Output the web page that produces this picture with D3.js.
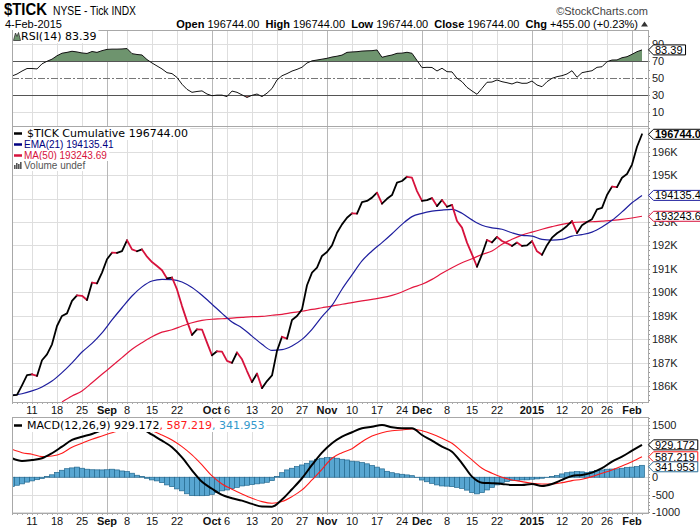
<!DOCTYPE html>
<html>
<head>
<meta charset="utf-8">
<script src="https://cdn.jsdelivr.net/npm/d3@7"></script>
<style>
  body { margin: 0; background: #fff; }
</style>
</head>
<body>
<div id="chart"></div>
<script>
// trading sessions, day of month
const aug14 = [5,6,7,8,11,12,13,14,15,18,19,20,21,22,25,26,27,28,29];
const sep14 = [2,3,4,5,8,9,10,11,12,15,16,17,18,19,22,23,24,25,26,29,30];
const oct14 = [1,2,3,6,7,8,9,10,13,14,15,16,17,20,21,22,23,24,27,28,29,30,31];
const nov14 = [3,4,5,6,7,10,11,12,13,14,17,18,19,20,21,24,25,26,28];
const dec14 = [1,2,3,4,5,8,9,10,11,12,15,16,17,18,19,22,23,24,26,29,30,31];
const jan15 = [2,5,6,7,8,9,12,13,14,15,16,20,21,22,23,26,27,28,29,30];
const feb15 = [2,3,4];

const tickDates = ["2014-08-11","2014-08-18","2014-08-25","2014-09-02","2014-09-08","2014-09-15","2014-09-22",
  "2014-10-01","2014-10-06","2014-10-13","2014-10-20","2014-10-27","2014-11-03","2014-11-10","2014-11-17",
  "2014-11-24","2014-12-01","2014-12-08","2014-12-15","2014-12-22","2015-01-02","2015-01-12","2015-01-20",
  "2015-01-26","2015-02-02"];
const tickLabels = ["11","18","25","Sep","8","15","22","Oct","6","13","20","27","Nov","10","17","24","Dec",
  "8","15","22","2015","12","20","26","Feb"];
const boldLabels = ["Sep","Oct","Nov","Dec","2015","Feb"];

// right axis labels (the ones not hidden under value tags)
const mainAxisVals = [186000,187000,188000,189000,190000,191000,192000,193000,195000,196000];
const rsiAxisVals = [90, 70, 50, 30, 10];
const macdAxisVals = [1500, 0, -500, -1000];

// $TICK cumulative, one value per session
const tickCum = [
  185600,185620,186030,186460,186500,186430,187100,187350,187780,188560,
  188990,189100,189630,189870,189850,189670,190410,190380,190840,191410,
  191690,191680,191760,192220,191830,191750,191830,191520,191290,191120,
  190940,190590,190630,190120,189410,188770,188180,188420,188410,187850,
  187310,187480,187470,187070,186990,187430,187140,186640,186170,186530,
  185910,186210,186450,187500,188100,188020,188820,188990,189270,190300,
  190840,191050,191550,191720,192000,192540,192900,193180,193370,193360,
  193850,193900,194040,194250,193780,193990,194150,194680,194750,194930,
  194890,194320,193900,193930,194020,193680,193940,193650,193730,193040,
  192760,192120,191620,191090,191620,192230,192130,192360,192190,192090,
  191980,192120,191980,192000,192180,191750,191600,192010,192330,192520,
  192660,192830,193040,192530,192860,193000,193120,193540,193600,194150,
  194510,194490,194890,195050,195450,196210,196744];

// EMA(21), every second session from the first
const ema21 = [
  185600,185670,185790,185960,186210,186570,186990,187450,187820,188270,
  188820,189340,189840,190230,190480,190550,190540,190440,190200,189870,
  189490,189100,188730,188480,188130,187780,187520,187550,187710,187990,
  188420,188960,189440,190130,190740,191340,191760,192120,192500,192900,
  193230,193370,193460,193510,193540,193370,193090,192860,192750,192690,
  192540,192430,192400,192260,192230,192260,192400,192460,192570,192790,
  193070,193430,193820,194135.41];

// MA(50), every second session from session 10
const ma50 = [
  185320,185570,185790,186140,186500,186850,187210,187570,187850,188100,
  188300,188400,188560,188700,188800,188850,188870,188900,188930,188960,
  188970,189020,189060,189130,189190,189270,189340,189410,189490,189560,
  189630,189700,189770,189870,190010,190200,190340,190550,190810,191050,
  191260,191430,191620,191760,192050,192260,192440,192570,192690,192800,
  192900,192970,193000,193010,193040,193070,193110,193170,193243.69];

// RSI(14), one value per session
const rsi14 = [
  52.7,55,58.5,61.5,61.5,61,67,70,72.5,76.5,
  79.5,80.5,81.8,81,79.8,79.2,81.5,80.5,82.5,84,
  84.3,84.3,84.5,85,79,78,77.4,72,68,64.5,
  61,56.6,55.5,51,43,37,33.5,34.5,35.2,31.5,
  29.5,30.2,30.2,28.5,35,33.5,30.5,27.5,30,31.5,
  28.5,32.5,38,48,53,55.5,58.5,60.5,63,68,
  70.5,71.5,72.5,73.5,75,76,77.3,80.5,81,81.3,
  82,82.3,82.5,83.3,74.7,76.2,77.4,79.4,79.6,80.6,
  79.4,71,62.5,62.9,62.7,58.6,61.8,57.8,57.5,50,
  46,39.4,35.1,31.2,38.2,45.3,45.6,48,46,44.8,
  43.3,45.6,44.1,44.2,46.8,42.1,40.1,46,50,51.9,
  53.1,55.1,58.9,51.2,56.6,57.8,58.9,62.9,63.6,69.5,
  71.5,71.6,74.2,75.4,78.2,81.3,83.39];

// MACD(12,26,9) line and signal, every second session
const macdLine = [
  544,467,496,544,688,877,1069,1163,1241,1355,
  1450,1530,1490,1400,1220,1049,860,570,200,-130,
  -330,-507,-602,-670,-765,-842,-845,-640,-344,-29,
  352,705,974,1163,1290,1404,1450,1499,1433,1404,
  1404,1212,1049,877,734,401,17,-155,-172,-192,
  -221,-221,-192,-249,-192,-77,37,66,132,258,
  447,590,762,929.172];
const macdSignal = [
  802,705,659,590,610,688,860,974,1089,1183,
  1278,1355,1375,1375,1335,1212,1069,877,639,352,
  37,-192,-344,-479,-602,-699,-745,-699,-556,-364,
  -77,229,544,705,820,1020,1183,1278,1335,1355,
  1384,1335,1241,1117,974,734,496,258,115,0,
  -77,-126,-172,-192,-192,-155,-97,-57,17,115,
  209,324,447,587.219];
// MACD histogram, one value per session
const macdHist = [
  -265,-230,-190,-140,-105,-70,-35,20,70,140,
  200,245,268,290,258,230,215,212,210,215,
  230,210,180,162,115,57,20,-30,-77,-105,
  -155,-220,-270,-335,-390,-475,-525,-530,-530,-520,
  -490,-440,-390,-365,-325,-290,-250,-230,-210,-190,
  -170,-145,-97,20,130,210,258,305,352,400,
  465,515,545,563,563,545,515,496,460,445,
  420,385,335,290,240,170,130,100,85,67,
  45,-10,-80,-130,-175,-220,-250,-255,-270,-290,
  -320,-370,-440,-477,-440,-365,-290,-220,-155,-125,
  -97,-95,-77,-75,-57,-48,-29,-10,20,48,
  95,130,150,162,155,140,160,190,210,230,
  235,240,258,277,290,305,341.953];

const pad = d => String(d).padStart(2, "0");
const dates = [].concat(
  aug14.map(d => "2014-08-" + pad(d)), sep14.map(d => "2014-09-" + pad(d)),
  oct14.map(d => "2014-10-" + pad(d)), nov14.map(d => "2014-11-" + pad(d)),
  dec14.map(d => "2014-12-" + pad(d)), jan15.map(d => "2015-01-" + pad(d)),
  feb15.map(d => "2015-02-" + pad(d)));

const width = 700, height = 531;
const left = 12, right = 648;
const rsiBox = { top: 30, bottom: 126 },
      mainBox = { top: 126, bottom: 402 },
      macdBox = { top: 417, bottom: 513 };

const x = d3.scalePoint().domain(dates).range([12, 642]);
const yRsi = d3.scaleLinear().domain([-6.1, 106.8]).range([rsiBox.bottom, rsiBox.top]);
const yMain = d3.scaleLinear().domain([185317, 197097]).range([mainBox.bottom, mainBox.top]);
const yMacd = d3.scaleLinear().domain([-1026, 1728]).range([macdBox.bottom, macdBox.top]);

const FONT = "'Liberation Sans', Arial, sans-serif";
const VFONT = "'DejaVu Sans', Verdana, sans-serif";

const svg = d3.select("#chart").append("svg")
    .attr("width", width)
    .attr("height", height)
    .style("font-family", FONT);

const defs = svg.append("defs");
function clip(id, x0, y0, w, h) {
  defs.append("clipPath").attr("id", id)
    .append("rect").attr("x", x0).attr("y", y0).attr("width", w).attr("height", h);
  return "url(#" + id + ")";
}

function grid(box, yScale, yVals) {
  const g = svg.append("g");
  g.selectAll("line.h").data(yVals).enter().append("line")
    .attr("x1", left).attr("x2", right)
    .attr("y1", d => Math.round(yScale(d)) + 0.5).attr("y2", d => Math.round(yScale(d)) + 0.5)
    .attr("stroke", "#dedede");
  g.selectAll("line.v").data(tickDates).enter().append("line")
    .attr("x1", d => Math.round(x(d)) + 0.5).attr("x2", d => Math.round(x(d)) + 0.5)
    .attr("y1", box.top).attr("y2", box.bottom)
    .attr("stroke", (d, i) => boldLabels.includes(tickLabels[i]) ? "#b8b8b8" : "#dedede");
  return g;
}

function frame(box, yScale, minorStep) {
  const g = svg.append("g");
  const minor = d3.range(Math.ceil(yScale.domain()[0] / minorStep) * minorStep, yScale.domain()[1], minorStep);
  g.selectAll("line").data(minor).enter().append("line")
    .attr("x1", right).attr("x2", right + 2)
    .attr("y1", d => Math.round(yScale(d)) + 0.5).attr("y2", d => Math.round(yScale(d)) + 0.5)
    .attr("stroke", "#999");
  g.append("rect")
    .attr("x", left + 0.5).attr("y", box.top + 0.5)
    .attr("width", right - left).attr("height", box.bottom - box.top)
    .attr("fill", "none").attr("stroke", "#a8a8a8");
}

function dayTicks(box) {
  svg.append("g").selectAll("line").data(dates).enter().append("line")
    .attr("x1", d => Math.round(x(d)) + 0.5).attr("x2", d => Math.round(x(d)) + 0.5)
    .attr("y1", box.bottom).attr("y2", box.bottom + 2)
    .attr("stroke", "#aaa");
}

function axisRight(yScale, vals, fmt) {
  svg.append("g").selectAll("text").data(vals).enter().append("text")
    .attr("x", 652).attr("y", d => yScale(d)).attr("dy", "0.36em")
    .style("font-size", "11px").attr("fill", "#222")
    .text(fmt);
}

function axisBottom(yBase) {
  svg.append("g").selectAll("text").data(tickDates).enter().append("text")
    .attr("x", d => x(d)).attr("y", yBase)
    .attr("text-anchor", "middle")
    .style("font-size", "11px")
    .style("font-weight", (d, i) => boldLabels.includes(tickLabels[i]) ? "bold" : "normal")
    .attr("fill", "#111")
    .text((d, i) => tickLabels[i]);
}

function tag(yPos, text, stroke, bold) {
  const g = svg.append("g");
  const t = g.append("text").attr("x", 655).attr("y", yPos).attr("dy", "0.36em")
    .style("font-size", "11px").style("font-weight", bold ? "bold" : "normal")
    .attr("fill", "#000").text(text);
  const w = t.node().getComputedTextLength();
  g.insert("path", "text")
    .attr("d", `M648.5,${yPos} L653.5,${yPos - 5} L${658 + w},${yPos - 5} L${658 + w},${yPos + 5} L653.5,${yPos + 5} Z`)
    .attr("fill", "#fff").attr("stroke", stroke).attr("stroke-width", 1);
}

function legendLine(xPos, yPos, parts, font, size) {
  const t = svg.append("text").attr("x", xPos).attr("y", yPos)
    .style("font-family", font).style("font-size", size + "px");
  parts.forEach(p => t.append("tspan").attr("fill", p[1]).text(p[0]));
  const bb = t.node().getBBox();
  svg.insert("rect", () => t.node())
    .attr("x", left + 1).attr("y", bb.y)
    .attr("width", bb.x + bb.width - left + 1).attr("height", bb.height)
    .attr("fill", "#fff");
  return t;
}

function dash(y, color) {
  svg.append("line").attr("x1", 14).attr("x2", 22).attr("y1", y).attr("y2", y)
    .attr("stroke", color).attr("stroke-width", 2.5);
}

// ---------------- header ----------------
svg.append("text").attr("x", 4).attr("y", 15)
  .style("font-family", "'Liberation Sans Narrow', 'Liberation Sans', Arial, sans-serif")
  .style("font-size", "16px").style("font-weight", "bold")
  .attr("textLength", 43).attr("lengthAdjust", "spacingAndGlyphs")
  .text("$TICK");
svg.append("text").attr("x", 53).attr("y", 15)
  .style("font-family", "'Liberation Sans Narrow', 'Liberation Sans', Arial, sans-serif")
  .style("font-size", "13px")
  .attr("textLength", 83).attr("lengthAdjust", "spacingAndGlyphs")
  .text("NYSE - Tick INDX");
svg.append("text").attr("x", 648).attr("y", 15).attr("text-anchor", "end")
  .style("font-size", "11px").attr("fill", "#444")
  .text("\u00A9StockCharts.com");
svg.append("text").attr("x", 5).attr("y", 28)
  .style("font-size", "11px").text("4-Feb-2015");

const ohlc = svg.append("text").attr("x", 638).attr("y", 28).attr("text-anchor", "end")
  .style("font-size", "11px").attr("xml:space", "preserve");
[["Open", true], [" 196744.00  ", false], ["High", true], [" 196744.00  ", false],
 ["Low", true], [" 196744.00  ", false], ["Close", true], [" 196744.00  ", false],
 ["Chg", true], [" +455.00 (+0.23%)", false]]
  .forEach(p => ohlc.append("tspan").style("font-weight", p[1] ? "bold" : "normal").text(p[0]));
svg.append("path").attr("d", "M641,26.5 L644.5,21.5 L648,26.5 Z").attr("fill", "#333");

// ---------------- RSI panel ----------------
grid(rsiBox, yRsi, [90, 10]);
const rsiData = rsi14.map((v, i) => ({ d: dates[i], v: v }));
const rsiClip = clip("rsiclip", left, rsiBox.top, right - left, rsiBox.bottom - rsiBox.top);
const rsiG = svg.append("g").attr("clip-path", rsiClip);

const hiClip = clip("rsihi", left, rsiBox.top, right - left, yRsi(70) - rsiBox.top);
const loClip = clip("rsilo", left, yRsi(30), right - left, rsiBox.bottom - yRsi(30));
rsiG.append("g").attr("clip-path", hiClip).append("path")
  .datum(rsiData)
  .attr("d", d3.area().x(d => x(d.d)).y0(yRsi(70)).y1(d => yRsi(d.v)))
  .attr("fill", "#6e946e");
rsiG.append("g").attr("clip-path", loClip).append("path")
  .datum(rsiData)
  .attr("d", d3.area().x(d => x(d.d)).y0(yRsi(30)).y1(d => yRsi(d.v)))
  .attr("fill", "#c86a6a");

[70, 30].forEach(v => rsiG.append("line")
  .attr("x1", left).attr("x2", right)
  .attr("y1", Math.round(yRsi(v)) + 0.5).attr("y2", Math.round(yRsi(v)) + 0.5)
  .attr("stroke", "#555"));
rsiG.append("line")
  .attr("x1", left).attr("x2", right)
  .attr("y1", Math.round(yRsi(50)) + 0.5).attr("y2", Math.round(yRsi(50)) + 0.5)
  .attr("stroke", "#777").attr("stroke-dasharray", "7,2,2,2");

rsiG.append("path")
  .datum(rsiData)
  .attr("d", d3.line().x(d => x(d.d)).y(d => yRsi(d.v)))
  .attr("fill", "none").attr("stroke", "#111").attr("stroke-width", 1);

frame(rsiBox, yRsi, 10);
axisRight(yRsi, rsiAxisVals, d => d);

// legend text, then its little icon on top of the white backing
legendLine(21, 40, [["RSI(14) 83.39", "#000"]], VFONT, 11);
svg.append("path").attr("d", "M13.5,40.5 L15.5,33 L17,36.5 L18.5,32.5 L20.5,40.5 Z")
  .attr("fill", "#6e946e").attr("stroke", "#333").attr("stroke-width", 0.8);
tag(yRsi(83.39), "83.39", "#000", false);

// ---------------- main panel ----------------
grid(mainBox, yMain, d3.range(186000, 197001, 1000));
const mainClip = clip("mainclip", left, mainBox.top, right - left, mainBox.bottom - mainBox.top);
const mainG = svg.append("g").attr("clip-path", mainClip);

const maData = ma50.map((v, k) => ({ d: dates[10 + k * 2], v: v }));
const emaData = ema21.map((v, k) => ({ d: dates[k * 2], v: v }));
const smooth = d3.line().curve(d3.curveMonotoneX).x(d => x(d.d)).y(d => yMain(d.v));

mainG.append("path").datum(maData).attr("d", smooth)
  .attr("fill", "none").attr("stroke", "#e3173f").attr("stroke-width", 1.2);
mainG.append("path").datum(emaData).attr("d", smooth)
  .attr("fill", "none").attr("stroke", "#1e1e9e").attr("stroke-width", 1.2);

// price line: black when up, red when down
const runs = [];
for (let i = 1; i < tickCum.length; i++) {
  const color = tickCum[i] < tickCum[i - 1] ? "#d6123c" : "#000";
  const last = runs[runs.length - 1];
  if (last && last.color === color) last.pts.push(i);
  else runs.push({ color: color, pts: [i - 1, i] });
}
const priceLine = d3.line().x(i => x(dates[i])).y(i => yMain(tickCum[i]));
mainG.selectAll("path.price").data(runs).enter().append("path")
  .attr("d", r => priceLine(r.pts))
  .attr("fill", "none").attr("stroke", r => r.color)
  .attr("stroke-width", 1.8).attr("stroke-linejoin", "round").attr("stroke-linecap", "round");

frame(mainBox, yMain, 200);
dayTicks(mainBox);
axisRight(yMain, mainAxisVals, d => (d / 1000) + "K");

// legend
legendLine(27, 137, [["$TICK Cumulative 196744.00", "#000"]], VFONT, 11);
legendLine(24, 148, [["EMA(21) 194135.41", "#000080"]], FONT, 10);
legendLine(24, 159, [["MA(50) 193243.69", "#d6123c"]], FONT, 10);
legendLine(24, 169, [["Volume undef", "#555"]], FONT, 10);
dash(133.5, "#000");
dash(144.5, "#000080");
dash(155.5, "#d6123c");
[[14, 4], [16, 6], [18, 5], [20, 7]].forEach(b => svg.append("rect")
  .attr("x", b[0]).attr("y", 169 - b[1]).attr("width", 1.6).attr("height", b[1]).attr("fill", "#555"));

tag(yMain(196744), "196744.00", "#000", true);
tag(yMain(194135.41), "194135.41", "#1e1e9e", false);
tag(yMain(193243.69), "193243.69", "#d6123c", false);

axisBottom(414);

// ---------------- MACD panel ----------------
grid(macdBox, yMacd, d3.range(-1000, 1501, 500));
const macdClip = clip("macdclip", left, macdBox.top, right - left, macdBox.bottom - macdBox.top);
const macdG = svg.append("g").attr("clip-path", macdClip);

macdG.selectAll("rect").data(macdHist).enter().append("rect")
  .attr("x", (v, i) => x(dates[i]) - 2.5)
  .attr("width", 5)
  .attr("y", v => yMacd(Math.max(0, v)))
  .attr("height", v => Math.abs(yMacd(v) - yMacd(0)))
  .attr("fill", "#58a6d1").attr("stroke", "#23688f").attr("stroke-width", 0.7);

const macdData = macdLine.map((v, k) => ({ d: dates[k * 2], v: v }));
const sigData = macdSignal.map((v, k) => ({ d: dates[k * 2], v: v }));
const smoothM = d3.line().curve(d3.curveMonotoneX).x(d => x(d.d)).y(d => yMacd(d.v));
macdG.append("path").datum(sigData).attr("d", smoothM)
  .attr("fill", "none").attr("stroke", "#ff1a1a").attr("stroke-width", 1.1);
macdG.append("path").datum(macdData).attr("d", smoothM)
  .attr("fill", "none").attr("stroke", "#000").attr("stroke-width", 2);

frame(macdBox, yMacd, 100);
dayTicks(macdBox);
axisRight(yMacd, macdAxisVals, d => d);

legendLine(27, 429, [["MACD(12,26,9) 929.172", "#000"], [", 587.219", "#ff1a1a"], [", 341.953", "#3399cc"]], VFONT, 11);
dash(425.5, "#000");

// value tags, pushed apart so they do not overlap
const macdTags = [[929.172, "929.172", "#000"], [587.219, "587.219", "#ff1a1a"], [341.953, "341.953", "#2a6d96"]];
let lastY = -Infinity;
macdTags.forEach(t => {
  const yy = Math.max(yMacd(t[0]), lastY + 10);
  lastY = yy;
  tag(yy, t[1], t[2], false);
});

axisBottom(525);
</script>
</body>
</html>
